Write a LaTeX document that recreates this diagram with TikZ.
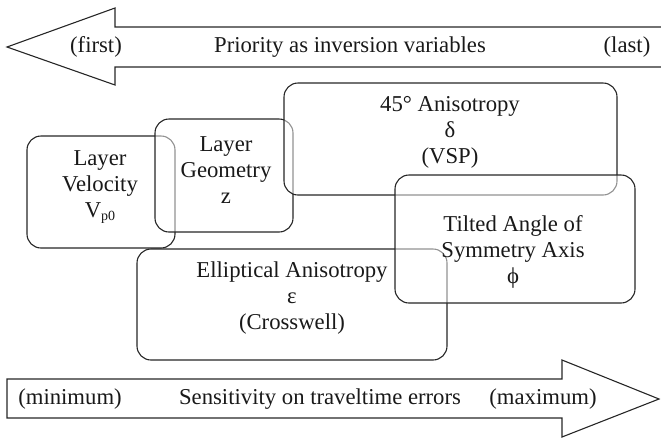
\documentclass[tikz,border=0pt]{standalone}
\usepackage{fontspec}
\setmainfont{Liberation Serif}
\begin{document}
\begin{tikzpicture}[x=1pt,y=-1pt,
  lbl/.style={font=\fontsize{22.7}{26}\selectfont, align=center, inner sep=0pt, text=black!90},
  panel/.style={draw=black!85, line width=1.1pt, rounded corners=14pt,
                fill=white, fill opacity=0.5, inner sep=0pt},
  bigarrow/.style={draw=black!85, line width=1.1pt, line join=miter}]
\useasboundingbox (0,0) rectangle (661,437);

% top arrow: priority as inversion variables (points left, runs off the right edge)
\draw[bigarrow] (661,27) -- (115,27) -- (115,8) -- (7,47) -- (115,85) -- (115,67) -- (661,67);
\node[lbl] (first) at (96,47) {(first)};
\node[lbl] (prio)  at (350,47) {Priority as inversion variables};
\node[lbl] (last)  at (627,47) {(last)};

% parameter panels, drawn back to front; each veils the lines beneath it
\node[panel, minimum width=148pt, minimum height=112pt] (vel)   at (101,192)   {};
\node[panel, minimum width=138pt, minimum height=113pt] (geo)   at (224,175.5) {};
\node[panel, minimum width=333pt, minimum height=112pt] (ani)   at (450.5,139) {};
\node[panel, minimum width=310pt, minimum height=111pt] (ell)   at (292,304.5) {};
\node[panel, minimum width=240pt, minimum height=128pt] (tilt)  at (515,239)   {};

\node[lbl] (velT)  at (100,187) {Layer\\Velocity\\V\raisebox{-0.35ex}{\fontsize{14}{14}\selectfont p0}};
\node[lbl] (geoT)  at (226,170) {Layer\\Geometry\\z};
\node[lbl] (aniT)  at (450,132) {45° Anisotropy\\δ\\(VSP)};
\node[lbl] (tiltT) at (513,252) {Tilted Angle of\\Symmetry Axis\\ϕ};
\node[lbl] (ellT)  at (292,298) {Elliptical Anisotropy\\ε\\(Crosswell)};

% bottom arrow: sensitivity on traveltime errors (points right)
\draw[bigarrow] (7,379) -- (562,379) -- (562,360) -- (659,399) -- (562,437) -- (562,418) -- (7,418) -- cycle;
\node[lbl] (min)  at (70,399)  {(minimum)};
\node[lbl] (sens) at (320,399) {Sensitivity on traveltime errors};
\node[lbl] (max)  at (543,399) {(maximum)};
\end{tikzpicture}
\end{document}
